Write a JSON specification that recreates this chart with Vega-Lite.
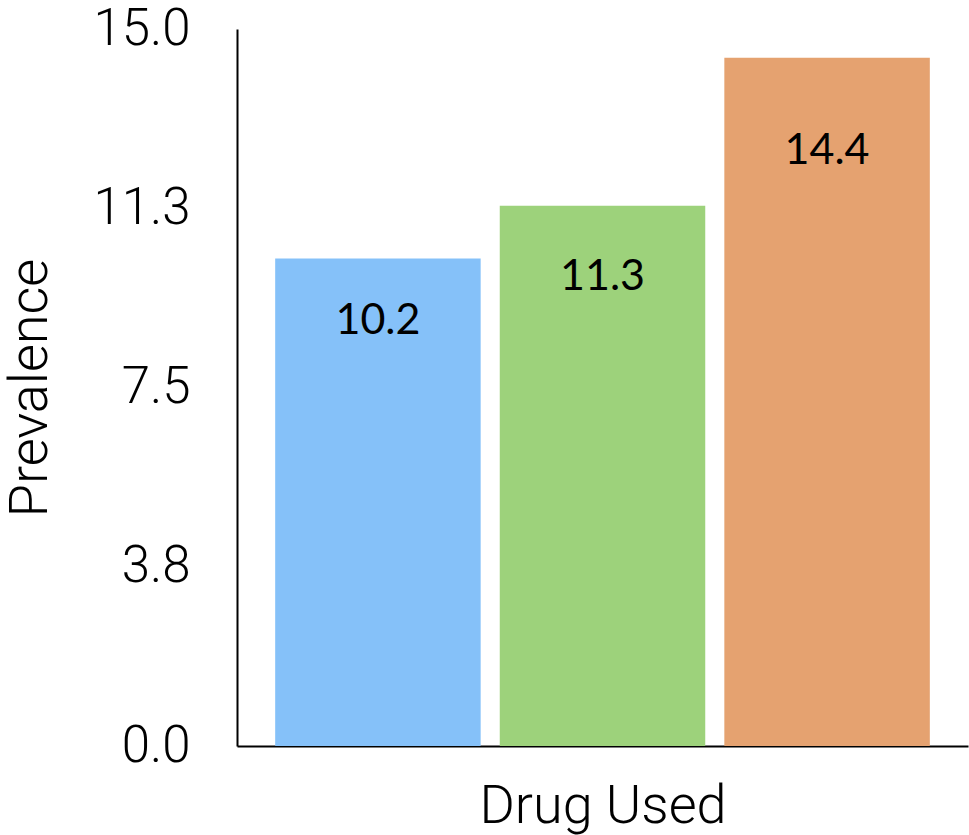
{
  "$schema": "https://vega.github.io/schema/vega-lite/v6.json",
  "width": 731,
  "height": 717,
  "autosize": {"type": "none"},
  "padding": {"left": 237, "top": 29, "right": 1, "bottom": 89},
  "background": "white",
  "config": {
    "view": {"stroke": null},
    "font": "Roboto"
  },
  "data": {
    "values": [
      {"drug": "A", "value": 10.2},
      {"drug": "B", "value": 11.3},
      {"drug": "C", "value": 14.4}
    ]
  },
  "transform": [
    {"calculate": "datum.value * 0.845", "as": "labelPos"}
  ],
  "encoding": {
    "x": {
      "field": "drug",
      "type": "nominal",
      "scale": {"paddingInner": 0.085, "paddingOuter": 0.17},
      "axis": {
        "title": "Drug Used",
        "labels": false,
        "ticks": false,
        "domainColor": "black",
        "domainWidth": 2,
        "titleFont": "Roboto",
        "titleFontWeight": 300,
        "titleFontSize": 54,
        "titleColor": "black",
        "titleBaseline": "alphabetic",
        "titleY": 76
      }
    }
  },
  "layer": [
    {
      "mark": {"type": "bar"},
      "encoding": {
        "y": {
          "field": "value",
          "type": "quantitative",
          "scale": {"domain": [0, 15], "nice": false},
          "axis": {
            "title": "Prevalence",
            "values": [0, 3.75, 7.5, 11.25, 15],
            "format": ".1f",
            "grid": false,
            "ticks": false,
            "domainColor": "black",
            "domainWidth": 2,
            "labelFont": "Roboto",
            "labelFontWeight": 300,
            "labelFontSize": 51,
            "labelColor": "black",
            "labelPadding": 47,
            "labelFlush": false,
            "titleFont": "Roboto",
            "titleFontWeight": 300,
            "titleFontSize": 54,
            "titleColor": "black",
            "titleX": -180
          }
        },
        "color": {
          "field": "drug",
          "type": "nominal",
          "scale": {"range": ["#85C1F9", "#9DD27B", "#E5A270"]},
          "legend": null
        }
      }
    },
    {
      "mark": {
        "type": "text",
        "baseline": "alphabetic",
        "font": "Lato",
        "fontSize": 43,
        "color": "black"
      },
      "encoding": {
        "y": {"field": "labelPos", "type": "quantitative"},
        "text": {"field": "value", "type": "quantitative", "format": ".1f"}
      }
    }
  ]
}
